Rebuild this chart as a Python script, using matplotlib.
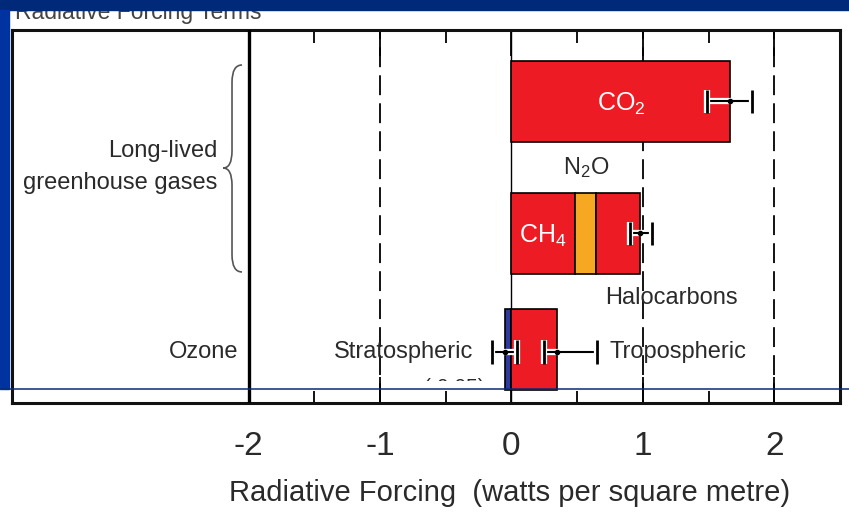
import matplotlib
matplotlib.use("Agg")
import matplotlib.pyplot as plt
import matplotlib.patheffects as pe
from matplotlib.patches import Rectangle, PathPatch
from matplotlib.path import Path
from matplotlib.lines import Line2D
from matplotlib.transforms import Bbox, TransformedBbox

# values (W m-2)
co2 = 1.66
co2_err = (1.49, 1.83)
ch4 = 0.48
n2o = 0.16
halo = 0.34
ghg_err = (0.90, 1.07)
strat = -0.05
strat_err = (-0.15, 0.04)
trop = 0.35
trop_err = (0.25, 0.65)
row_y = [2.0, 1.0, 0.123]
major_ticks = [-2, -1, 0, 1, 2]
major_labels = ["-2", "-1", "0", "1", "2"]
minor_ticks = [-1.5, -0.5, 0.5, 1.5]
dashed_at = [-1, 1, 2]

plt.rcParams["font.family"] = ["Liberation Sans", "DejaVu Sans"]
plt.rcParams["mathtext.fontset"] = "custom"
plt.rcParams["mathtext.rm"] = "Liberation Sans"
plt.rcParams["mathtext.default"] = "regular"

RED = "#ED1C24"
ORANGE = "#F7A823"
BLUE = "#2E3A9E"
TXT = "#2a2a2a"
FS = 17

W, H = 849, 519
def fx(px):
    return px / W
def fy(py):
    return 1 - py / H

fig = plt.figure(figsize=(W / 100, H / 100), dpi=100)
ax = fig.add_axes([fx(12), fy(403), fx(840) - fx(12), fy(30) - fy(403)])
ax.set_xlim(-3.8, 2.5)
ax.set_ylim(-0.284, 2.54)

# grid lines
for x in dashed_at:
    ax.axvline(x, color="black", lw=1.3, ls=(0, (11, 4.5)), zorder=0.8)
ax.axvline(0, color="black", lw=1.0, zorder=0.8)
ax.axvline(-2, color="black", lw=2.4, zorder=2.6)

bh = 0.61
kw = dict(height=bh, edgecolor="black", linewidth=1.2, zorder=1)
ax.barh(row_y[0], co2, color=RED, **kw)
ax.barh(row_y[1], ch4, color=RED, **kw)
ax.barh(row_y[1], n2o, left=ch4, color=ORANGE, **kw)
ax.barh(row_y[1], halo, left=ch4 + n2o, color=RED, **kw)
ax.barh(row_y[2], strat, color=BLUE, **kw)
ax.barh(row_y[2], trop, color=RED, **kw)

def err(x, lo, hi, y):
    c = ax.errorbar(x, y, xerr=[[x - lo], [hi - x]], fmt="o", ms=3, color="black",
                    elinewidth=1.5, capsize=8.5, capthick=2, zorder=3)
    halo_fx = [pe.Stroke(linewidth=4.5, foreground="white"), pe.Normal()]
    for art in c.lines[1]:
        art.set_path_effects(halo_fx)
    for lc in c.lines[2]:
        lc.set_path_effects(halo_fx)

err(co2, co2_err[0], co2_err[1], row_y[0])
err(ch4 + n2o + halo, ghg_err[0], ghg_err[1], row_y[1])
err(strat, strat_err[0], strat_err[1], row_y[2] - 0.02)
err(trop, trop_err[0], trop_err[1], row_y[2] - 0.02)

# labels
ax.text(0.835, row_y[0] - 0.02, "CO$_2$", color="white", fontsize=FS + 1, ha="center", va="center")
ax.text(0.235, row_y[1] - 0.02, "CH$_4$", color="white", fontsize=FS + 1, ha="center", va="center")
ax.text(0.57, 1.50, "N$_2$O", color=TXT, fontsize=FS, ha="center", va="center")
ax.text(0.71, 0.51, "Halocarbons", color=TXT, fontsize=FS, ha="left", va="center")
ax.text(-0.29, 0.10, "Stratospheric", color=TXT, fontsize=FS, ha="right", va="center")
ax.text(0.75, 0.10, "Tropospheric", color=TXT, fontsize=FS, ha="left", va="center")
ax.text(-2.08, 0.10, "Ozone", color=TXT, fontsize=FS, ha="right", va="center")
ax.text(-2.24, 1.50, "Long-lived\ngreenhouse gases", color=TXT, fontsize=FS,
        ha="right", va="center", linespacing=1.6)
t = ax.text(-0.43, -0.17, "(-0.05)", color=TXT, fontsize=15, ha="center", va="center")
t.set_clip_box(TransformedBbox(Bbox([[-3.8, -0.116], [2.5, 2.54]]), ax.transData))
t.set_clip_on(True)

# curly brace
xe, xm, xt = -2.05, -2.126, -2.194
yt, yc, yb = 2.275, 1.495, 0.708
r = 0.13
verts = [(xe, yt), (xm, yt), (xm, yt - r), (xm, yc + r), (xm, yc), (xt, yc),
         (xm, yc), (xm, yc - r), (xm, yb + r), (xm, yb), (xe, yb)]
codes = [Path.MOVETO, Path.CURVE3, Path.CURVE3, Path.LINETO, Path.CURVE3, Path.CURVE3,
         Path.CURVE3, Path.CURVE3, Path.LINETO, Path.CURVE3, Path.CURVE3]
ax.add_patch(PathPatch(Path(verts, codes), fill=False, edgecolor="#555555", lw=1.2))

# axes styling
for s in ax.spines.values():
    s.set_linewidth(2.2)
    s.set_color("#111111")
ax.set_yticks([])
ax.set_xticks(major_ticks)
ax.set_xticklabels(major_labels)
ax.set_xticks(minor_ticks, minor=True)
ax.tick_params(axis="x", which="major", direction="in", length=19, width=1.3,
               top=True, bottom=True, labelsize=24, pad=20, labelcolor=TXT)
ax.tick_params(axis="x", which="minor", direction="in", length=9, width=1.3,
               top=True, bottom=True)
ax.set_xlabel("Radiative Forcing  (watts per square metre)", fontsize=21, color=TXT)
ax.xaxis.set_label_coords(0.601, -0.205)

# slide decorations
fig.text(fx(15), fy(19), "Radiative Forcing Terms", fontsize=16.5, color="#444444",
         va="baseline", ha="left", zorder=5)
fig.add_artist(Rectangle((0, fy(10)), 1, fy(0) - fy(10), transform=fig.transFigure,
                         color="#00297A", zorder=10))
fig.add_artist(Rectangle((0, fy(389)), fx(9), fy(10) - fy(389), transform=fig.transFigure,
                         color="#0033A0", zorder=10))
fig.add_artist(Line2D([0, 1], [fy(389), fy(389)], transform=fig.transFigure,
                      color="#0A2A7A", lw=1.1, zorder=10))

fig.savefig("out.png", dpi=100)
